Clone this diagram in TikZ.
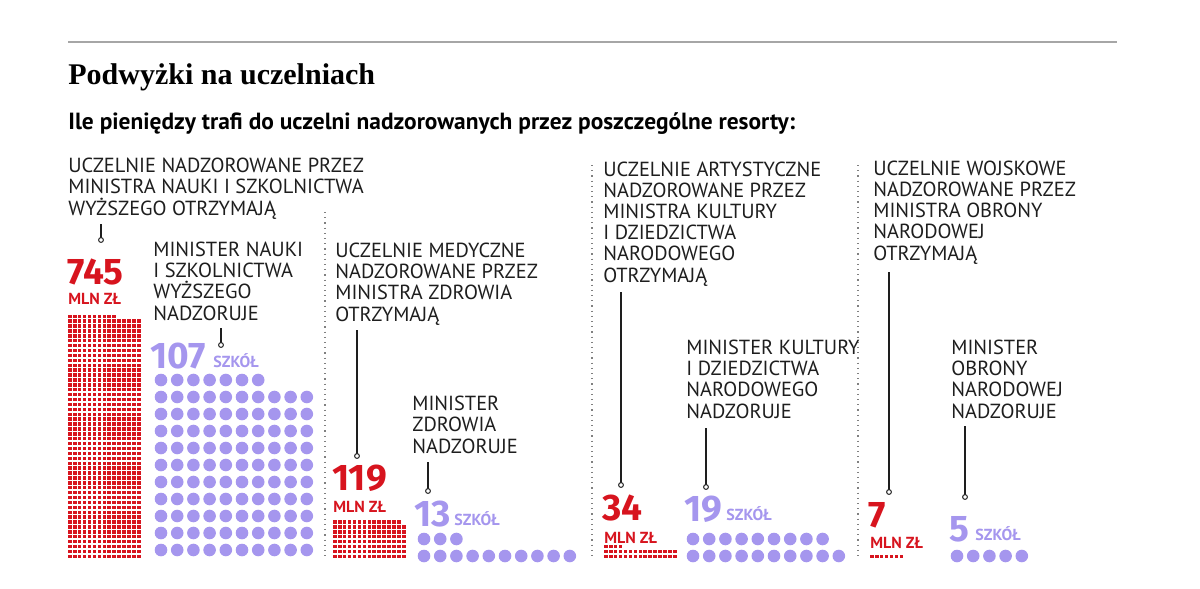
\documentclass[tikz,border=0pt]{standalone}
\usepackage{fontspec}
\setmainfont{PT Sans}
\newfontfamily\numfont{Fira Sans}[UprightFont=* Bold]
\newfontfamily\titlefont{Liberation Serif}[UprightFont=* Bold]
\definecolor{rd}{HTML}{D7141E}
\definecolor{pu}{HTML}{A596EE}
\definecolor{tx}{HTML}{1E1E1E}
\begin{document}
\begin{tikzpicture}[x=0.5pt,y=-0.5pt,
  lab/.style={anchor=base west,inner sep=0,align=left,font=\fontsize{10.2}{10.6}\selectfont,text=tx},
  bignum/.style={anchor=base west,inner sep=0,font=\numfont\fontsize{18.5}{19}\selectfont},
  unit/.style={anchor=base west,inner sep=0,font=\fontsize{8}{8}\selectfont\bfseries},
  pinline/.style={draw=tx,line width=0.6pt},
  pinend/.style={circle,draw=tx,fill=white,line width=0.5pt,inner sep=0,minimum size=2.4pt},
  sep/.style={draw=gray,line width=0.6pt,dotted}]
\useasboundingbox (0,0) rectangle (1200,589);
\fill[white] (0,0) rectangle (1200,589);
\draw[gray!70,line width=1pt] (68,42) -- (1117,42);
\node[anchor=base west,inner sep=0,font=\titlefont\fontsize{15}{15}\selectfont] (title) at (68,84) {Podwyżki na uczelniach};
\node[anchor=base west,inner sep=0,font=\bfseries\fontsize{11.7}{12}\selectfont] (sub) at (68,129) {Ile pieniędzy trafi do uczelni nadzorowanych przez poszczególne resorty:};
% separators
\draw[sep] (325,212) -- (325,560);
\draw[sep] (592,165) -- (592,560);
\draw[sep] (858,165) -- (858,560);
% labels (anchored at last line baseline)
\node[lab] (l1) at (68,215) {UCZELNIE NADZOROWANE PRZEZ\\MINISTRA NAUKI I SZKOLNICTWA\\WYŻSZEGO OTRZYMAJĄ};
\node[lab] (l2) at (153,320) {MINISTER NAUKI\\I SZKOLNICTWA\\WYŻSZEGO\\NADZORUJE};
\node[lab] (l3) at (335,321) {UCZELNIE MEDYCZNE\\NADZOROWANE PRZEZ\\MINISTRA ZDROWIA\\OTRZYMAJĄ};
\node[lab] (l4) at (412,453) {MINISTER\\ZDROWIA\\NADZORUJE};
\node[lab] (l5) at (603,282) {UCZELNIE ARTYSTYCZNE\\NADZOROWANE PRZEZ\\MINISTRA KULTURY\\I DZIEDZICTWA\\NARODOWEGO\\OTRZYMAJĄ};
\node[lab] (l6) at (686,418) {MINISTER KULTURY\\I DZIEDZICTWA\\NARODOWEGO\\NADZORUJE};
\node[lab] (l7) at (873,260) {UCZELNIE WOJSKOWE\\NADZOROWANE PRZEZ\\MINISTRA OBRONY\\NARODOWEJ\\OTRZYMAJĄ};
\node[lab] (l8) at (951,418) {MINISTER\\OBRONY\\NARODOWEJ\\NADZORUJE};
% numbers
\node[bignum,text=rd] (n1) at (67,284) {745};
\node[unit,text=rd] (u1) at (68,304) {MLN ZŁ};
\node[bignum,text=pu] (n2) at (150,368) {107};
\node[unit,text=pu] (u2) at (213,367) {SZKÓŁ};
\node[bignum,text=rd] (n3) at (332,490) {119};
\node[unit,text=rd] (u3) at (333,512) {MLN ZŁ};
\node[bignum,text=pu] (n4) at (414,526) {13};
\node[unit,text=pu] (u4) at (454,525) {SZKÓŁ};
\node[bignum,text=rd] (n5) at (602,520) {34};
\node[unit,text=rd] (u5) at (604,543) {MLN ZŁ};
\node[bignum,text=pu] (n6) at (684,521) {19};
\node[unit,text=pu] (u6) at (726,520) {SZKÓŁ};
\node[bignum,text=rd] (n7) at (868,527) {7};
\node[unit,text=rd] (u7) at (870,548) {MLN ZŁ};
\node[bignum,text=pu] (n8) at (949,541) {5};
\node[unit,text=pu] (u8) at (975,540) {SZKÓŁ};
% pins
\foreach \x/\ya/\yb [count=\i] in {101/224/240,221/328/345,357/330/456,428/462/491,621/292/485,706/428/487,889/272/492,965/426/497}{
  \coordinate (pa\i) at (\x,\ya);
  \coordinate (pb\i) at (\x,\yb);
  \draw[pinline] (pa\i) -- (pb\i);
  \node[pinend] (pe\i) at (pb\i) {};
}
% red grids
\newcommand\redgrid[3]{% x0, count, ybottom
  \foreach \k in {1,...,#2}{
    \pgfmathtruncatemacro\r{(\k-1)/15}
    \pgfmathtruncatemacro\c{\k-1-15*\r}
    \fill[rd] (#1+\c*4.93,#3-\r*4.9) rectangle ++(3.6,-3.4);
  }}
\redgrid{68}{745}{558}
\redgrid{333}{119}{558}
\redgrid{604}{34}{558}
\redgrid{870}{7}{558}
% purple dots
\newcommand\dotgrid[3]{% x0, count, ybottom
  \foreach \k in {1,...,#2}{
    \pgfmathtruncatemacro\r{(\k-1)/10}
    \pgfmathtruncatemacro\c{\k-1-10*\r}
    \fill[pu] (#1+\c*16.2,#3-\r*17) circle (6.3);
  }}
\dotgrid{161}{107}{550}
\dotgrid{424}{13}{556}
\dotgrid{693}{19}{556}
\dotgrid{957}{5}{556}
\end{tikzpicture}
\end{document}
